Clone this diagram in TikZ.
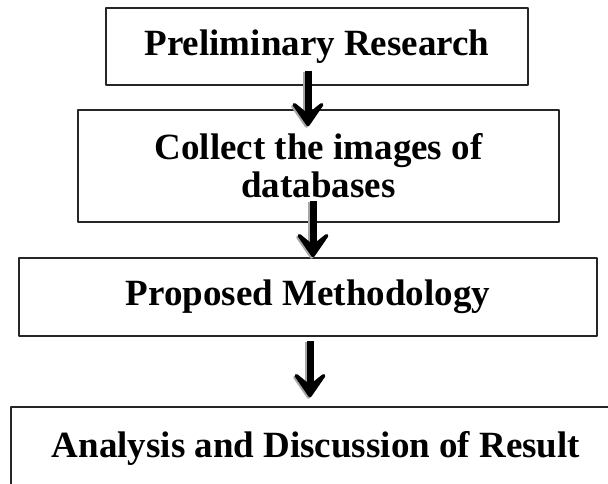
\documentclass[tikz,border=0pt]{standalone}
\usepackage{fontspec}
\setmainfont{Liberation Serif}
\usetikzlibrary{arrows.meta}

\begin{document}
\begin{tikzpicture}[x=1pt,y=-1pt,line join=round,
		font=\fontsize{37}{38}\selectfont\bfseries,
		stepbox/.style={draw=black!85,line width=1.5pt,inner sep=0pt,align=center},
		flow/.style={line width=7pt,-{Stealth[length=32pt,width=44pt,inset=18pt,round]}},
		flowshade/.style={flow,draw=black!35,fill=black!35,transform canvas={shift={(-1.5pt,-1.5pt)}}}]
			\useasboundingbox (0,0) rectangle (608,484);
			\node[stepbox,minimum width=422pt,minimum height=77pt] (prelim) at (317,46.5) {Preliminary Research};
			\node[stepbox,minimum width=481pt,minimum height=112pt] (collect) at (318.5,166) {Collect the images of\\databases};
			\node[stepbox,minimum width=578pt,minimum height=78pt] (method) at (308,297) {Proposed Methodology};
			\node[stepbox,minimum width=610pt,minimum height=82pt] (result) at (316,448) {Analysis and Discussion of Result};
			\foreach \st in {flowshade,flow}{
				\draw[\st] ([xshift=-9pt,yshift=15pt]prelim.south) -- ([xshift=-10.5pt,yshift=-17pt]collect.north);
				\draw[\st] ([xshift=-5.5pt,yshift=22pt]collect.south) -- ([xshift=5pt]method.north);
				\draw[\st] ([xshift=2pt,yshift=-4pt]method.south) -- ([xshift=-6pt,yshift=9pt]result.north);
			}
		\end{tikzpicture}
\end{document}
